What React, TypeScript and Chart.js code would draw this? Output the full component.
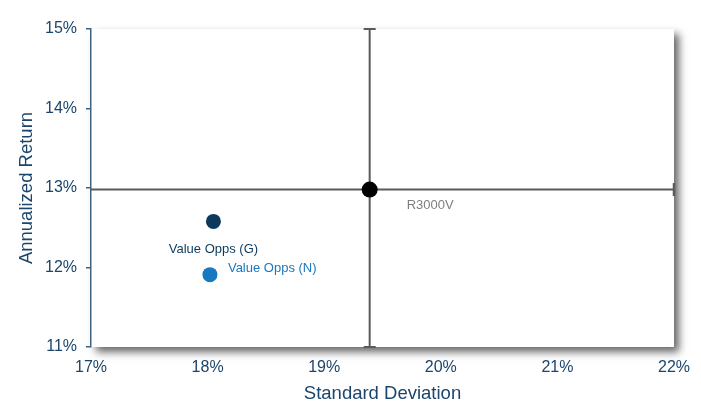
import { useEffect, useRef } from "react";
import { Chart, registerables } from "chart.js";
Chart.register(...registerables);

// ---- data ----
const seriesNames = ["R3000V", "Value Opps (G)", "Value Opps (N)"];
const stdDeviation = [19.39, 18.05, 18.02];
const annualizedReturn = [12.98, 12.58, 11.91];
const xTickValues = [17, 18, 19, 20, 21, 22];
const yTickValues = [11, 12, 13, 14, 15];
const benchmarkIndex = 0;
const xTitle = "Standard Deviation";
const yTitle = "Annualized Return";

// ---- style ----
const pointColors = ["#000000", "#0c3a5d", "#1878c0"];
const labelColors = ["#7f7f7f", "#0c3a5d", "#1878c0"];
const pointRadii = [8, 7.5, 7.5];
const labelOffsets = [
  { dx: 37, dy: 16, align: "left" },
  { dx: 0, dy: 28, align: "center" },
  { dx: 18, dy: -6, align: "left" },
];
const FONT = "'Liberation Sans', Arial, sans-serif";
const TEXT = "#1b456b";
const AXIS = "#3f6282";
const CROSS = "#5a5a5a";

const shadowPlugin = {
  id: "plotShadow",
  beforeDraw(chart: any) {
    const { ctx, chartArea } = chart;
    const { left, top, right, bottom } = chartArea;
    ctx.save();
    ctx.fillStyle = "#ffffff";
    ctx.fillRect(0, 0, chart.width, chart.height);
    ctx.shadowColor = "rgba(0,0,0,0.6)";
    ctx.shadowBlur = 8;
    ctx.shadowOffsetX = 5;
    ctx.shadowOffsetY = 5;
    ctx.fillRect(left, top, right - left, bottom - top);
    ctx.restore();
  },
};

const crossPlugin = {
  id: "crossHair",
  beforeDatasetsDraw(chart: any) {
    const { ctx, scales } = chart;
    const xs = scales.x;
    const ys = scales.y;
    const px = xs.getPixelForValue(stdDeviation[benchmarkIndex]);
    const py = ys.getPixelForValue(annualizedReturn[benchmarkIndex]);
    const yTop = ys.getPixelForValue(ys.max);
    const yBot = ys.getPixelForValue(ys.min);
    const xL = xs.getPixelForValue(xs.min);
    const xR = xs.getPixelForValue(xs.max);
    ctx.save();
    ctx.strokeStyle = CROSS;
    ctx.lineWidth = 2;
    ctx.beginPath();
    ctx.moveTo(px, yTop);
    ctx.lineTo(px, yBot);
    ctx.moveTo(px - 6, yTop);
    ctx.lineTo(px + 6, yTop);
    ctx.moveTo(px - 6, yBot);
    ctx.lineTo(px + 6, yBot);
    ctx.moveTo(xL, py);
    ctx.lineTo(xR, py);
    ctx.stroke();
    ctx.lineWidth = 2.5;
    ctx.beginPath();
    ctx.moveTo(xR, py - 6.5);
    ctx.lineTo(xR, py + 6.5);
    ctx.stroke();
    ctx.restore();
  },
};

const labelPlugin = {
  id: "pointLabels",
  afterDatasetsDraw(chart: any) {
    const { ctx } = chart;
    ctx.save();
    ctx.font = `13px ${FONT}`;
    ctx.textBaseline = "middle";
    chart.data.datasets.forEach((ds: any, i: number) => {
      const meta = chart.getDatasetMeta(i);
      const el = meta.data[0];
      if (!el) return;
      const off = labelOffsets[i];
      ctx.fillStyle = labelColors[i];
      ctx.textAlign = off.align;
      ctx.fillText(ds.label, el.x + off.dx, el.y + off.dy);
    });
    ctx.restore();
  },
};

export default function App() {
  const ref = useRef<HTMLCanvasElement>(null);
  useEffect(() => {
    document.body.style.margin = "0";
    const canvas = ref.current;
    if (!canvas) return;
    const chart = new Chart(canvas, {
      type: "scatter",
      data: {
        datasets: seriesNames.map((name, i) => ({
          label: name,
          data: [{ x: stdDeviation[i], y: annualizedReturn[i] }],
          backgroundColor: pointColors[i],
          borderColor: pointColors[i],
          borderWidth: 0,
          pointRadius: pointRadii[i],
          pointHoverRadius: pointRadii[i],
        })),
      },
      options: {
        animation: false,
        responsive: false,
        devicePixelRatio: 1,
        layout: { padding: { top: 29, right: 22, left: 0, bottom: 0 } },
        plugins: {
          legend: { display: false },
          tooltip: { enabled: false },
        },
        scales: {
          x: {
            type: "linear",
            min: xTickValues[0],
            max: xTickValues[xTickValues.length - 1],
            afterBuildTicks: (s: any) => {
              s.ticks = xTickValues.map((v) => ({ value: v }));
            },
            afterFit: (s: any) => {
              s.height = 70;
            },
            grid: { display: false, drawTicks: false },
            border: { display: false },
            ticks: {
              padding: 11,
              color: TEXT,
              font: { family: FONT, size: 16 },
              callback: (v: any) => `${v}%`,
              maxRotation: 0,
            },
            title: {
              display: true,
              text: xTitle,
              color: TEXT,
              font: { family: FONT, size: 18.5 },
              padding: { top: 0, bottom: 12 },
            },
          },
          y: {
            type: "linear",
            min: yTickValues[0],
            max: yTickValues[yTickValues.length - 1],
            afterBuildTicks: (s: any) => {
              s.ticks = yTickValues.map((v) => ({ value: v }));
            },
            afterFit: (s: any) => {
              s.width = 91;
            },
            grid: {
              drawOnChartArea: false,
              drawTicks: true,
              tickLength: 5,
              color: AXIS,
              lineWidth: 1.5,
            },
            border: { display: true, color: AXIS, width: 1.5 },
            ticks: {
              padding: 9,
              color: TEXT,
              font: { family: FONT, size: 16 },
              callback: (v: any) => `${v}%`,
            },
            title: {
              display: true,
              text: yTitle,
              color: TEXT,
              font: { family: FONT, size: 18.5 },
              padding: { top: 16, bottom: 0 },
            },
          },
        },
      },
      plugins: [shadowPlugin, crossPlugin, labelPlugin],
    });
    return () => chart.destroy();
  }, []);
  return (
    <div style={{ width: 701, height: 417 }}>
      <canvas ref={ref} width={701} height={417} style={{ display: "block" }} />
    </div>
  );
}
